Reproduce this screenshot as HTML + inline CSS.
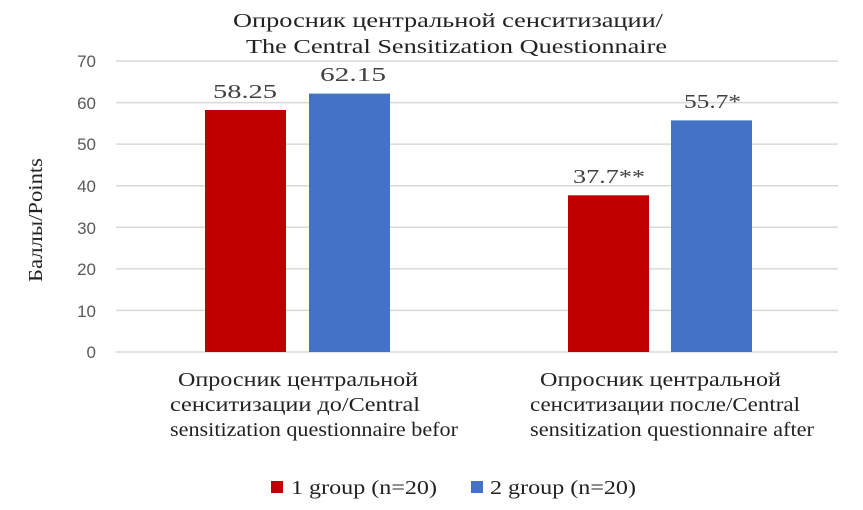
<!DOCTYPE html>
<html><head><meta charset="utf-8"><style>
body{margin:0;background:#fff;}
</style></head><body>
<svg width="863" height="505" xmlns="http://www.w3.org/2000/svg">
<rect width="863" height="505" fill="#fff"/>
<g font-family="Liberation Serif, serif" fill="#222" font-size="20" lengthAdjust="spacingAndGlyphs">
<text x="233" y="27" textLength="430" lengthAdjust="spacingAndGlyphs">Опросник центральной сенситизации/</text>
<text x="246" y="53" textLength="421" lengthAdjust="spacingAndGlyphs">The Central Sensitization Questionnaire</text>
</g>
<g stroke="#d9d9d9" stroke-width="1.5">
<line x1="116" x2="838" y1="61" y2="61"/><line x1="116" x2="838" y1="102.6" y2="102.6"/>
<line x1="116" x2="838" y1="144.1" y2="144.1"/><line x1="116" x2="838" y1="185.7" y2="185.7"/>
<line x1="116" x2="838" y1="227.3" y2="227.3"/><line x1="116" x2="838" y1="268.9" y2="268.9"/>
<line x1="116" x2="838" y1="310.4" y2="310.4"/><line x1="116" x2="838" y1="352" y2="352"/>
</g>
<g font-family="Liberation Sans, sans-serif" font-size="17" fill="#595959" text-anchor="end">
<text x="96" y="67">70</text><text x="96" y="109">60</text><text x="96" y="150">50</text>
<text x="96" y="192">40</text><text x="96" y="234">30</text><text x="96" y="275">20</text>
<text x="96" y="317">10</text><text x="96" y="358">0</text>
</g>
<text transform="translate(42,282) rotate(-90)" font-family="Liberation Serif, serif" font-size="20" fill="#222" textLength="124" lengthAdjust="spacingAndGlyphs">Баллы/Points</text>
<rect x="205" y="110" width="81" height="242" fill="#c00000"/>
<rect x="309" y="93.6" width="81" height="258.4" fill="#4472c4"/>
<rect x="568" y="195.3" width="81" height="156.7" fill="#c00000"/>
<rect x="671" y="120.4" width="81" height="231.6" fill="#4472c4"/>
<g font-family="Liberation Serif, serif" font-size="20" fill="#404040">
<text x="213" y="98" textLength="64" lengthAdjust="spacingAndGlyphs">58.25</text>
<text x="320" y="81" textLength="66" lengthAdjust="spacingAndGlyphs">62.15</text>
<text x="573" y="183" textLength="72" lengthAdjust="spacingAndGlyphs">37.7**</text>
<text x="684" y="108" textLength="57" lengthAdjust="spacingAndGlyphs">55.7*</text>
</g>
<g font-family="Liberation Serif, serif" font-size="20" fill="#222">
<text x="178" y="386" textLength="240" lengthAdjust="spacingAndGlyphs">Опросник центральной</text>
<text x="170" y="411" textLength="250" lengthAdjust="spacingAndGlyphs">сенситизации до/Central</text>
<text x="170" y="436" textLength="288" lengthAdjust="spacingAndGlyphs">sensitization questionnaire befor</text>
<text x="540" y="386" textLength="241" lengthAdjust="spacingAndGlyphs">Опросник центральной</text>
<text x="530" y="411" textLength="270" lengthAdjust="spacingAndGlyphs">сенситизации после/Central</text>
<text x="530" y="436" textLength="284" lengthAdjust="spacingAndGlyphs">sensitization questionnaire after</text>
</g>
<rect x="271" y="481" width="12" height="12" fill="#c00000"/>
<rect x="471" y="481" width="12" height="12" fill="#4472c4"/>
<g font-family="Liberation Serif, serif" font-size="20" fill="#222">
<text x="291" y="494" textLength="146" lengthAdjust="spacingAndGlyphs">1 group (n=20)</text>
<text x="490" y="494" textLength="146" lengthAdjust="spacingAndGlyphs">2 group (n=20)</text>
</g>
</svg>
</body></html>
